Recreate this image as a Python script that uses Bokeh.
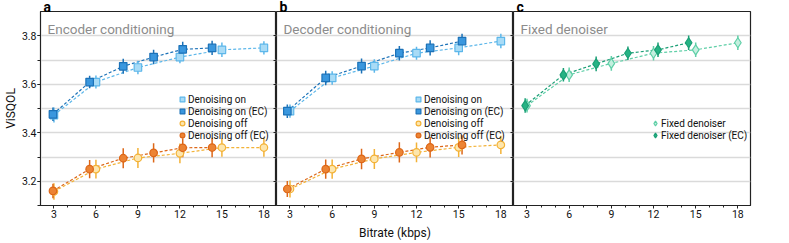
from bokeh.plotting import figure
from bokeh.layouts import row
from bokeh.models import (Range1d, SingleIntervalTicker, FixedTicker, Label, Legend,
                          LegendItem, LinearAxis)
from bokeh.embed import file_html
from bokeh.resources import INLINE

# ---------------- data ----------------
bitrates = [3, 6, 9, 12, 15, 18]

# panel a: Encoder conditioning
a_ec_bitrates = [2.93, 5.55, 7.95, 10.12, 12.2, 14.3]
a_on = [3.473, 3.609, 3.669, 3.712, 3.742, 3.750]
a_on_err = [0.031, 0.027, 0.028, 0.025, 0.030, 0.027]
a_on_ec = [3.476, 3.609, 3.674, 3.712, 3.744, 3.750]
a_on_ec_err = [0.028, 0.026, 0.031, 0.030, 0.031, 0.029]
a_off = [3.158, 3.250, 3.296, 3.315, 3.339, 3.339]
a_off_err = [0.034, 0.039, 0.041, 0.041, 0.038, 0.038]
a_off_ec = [3.160, 3.250, 3.295, 3.317, 3.338, 3.339]
a_off_ec_err = [0.030, 0.038, 0.041, 0.040, 0.039, 0.040]

# panel b: Decoder conditioning
b_ec_bitrates = [2.81, 5.54, 8.09, 10.78, 12.97, 15.24]
b_on = [3.489, 3.626, 3.675, 3.728, 3.750, 3.778]
b_on_err = [0.027, 0.028, 0.028, 0.027, 0.030, 0.030]
b_on_ec = [3.489, 3.626, 3.675, 3.728, 3.750, 3.778]
b_on_ec_err = [0.028, 0.030, 0.031, 0.030, 0.031, 0.030]
b_off = [3.168, 3.250, 3.292, 3.319, 3.340, 3.350]
b_off_err = [0.035, 0.040, 0.041, 0.041, 0.040, 0.038]
b_off_ec = [3.168, 3.250, 3.292, 3.319, 3.340, 3.350]
b_off_ec_err = [0.033, 0.040, 0.042, 0.042, 0.042, 0.040]

# panel c: Fixed denoiser
c_ec_bitrates = [2.87, 5.59, 7.92, 10.18, 12.32, 14.5]
c_fixed = [3.512, 3.639, 3.686, 3.728, 3.742, 3.771]
c_fixed_err = [0.028, 0.030, 0.030, 0.030, 0.030, 0.030]
c_fixed_ec = [3.512, 3.639, 3.684, 3.728, 3.742, 3.771]
c_fixed_ec_err = [0.030, 0.028, 0.030, 0.028, 0.030, 0.030]

x_tick_interval = 3
y_tick_interval = 0.2
y_grid_values = [3.2, 3.3, 3.4, 3.5, 3.6, 3.7, 3.8]
panel_letters = ["a", "b", "c"]
panel_titles = ["Encoder conditioning", "Decoder conditioning", "Fixed denoiser"]

FONT = "Roboto"
STYLES = {
    "on":     dict(line="#5db7ea", fill="#a8dbf6", marker="square", size=7.5),
    "on_ec":  dict(line="#1c72b8", fill="#3a97de", marker="square", size=7.5),
    "off":    dict(line="#f3b237", fill="#fde6ad", marker="circle", size=7.5),
    "off_ec": dict(line="#dd6718", fill="#ec8434", marker="circle", size=7.5),
    "fx":     dict(line="#5fcfa7", fill="#c4efdf", marker="diamond", size=10),
    "fx_ec":  dict(line="#1b9f76", fill="#26b384", marker="diamond", size=10),
}

FRAME_H = 194


def make_panel(idx, series, first=False, last=False, xlabel=None, fw=237):
    kw = dict(frame_width=fw, frame_height=FRAME_H, output_backend="svg",
              toolbar_location=None, x_range=Range1d(2.04, 18.9),
              y_range=Range1d(3.1, 3.9), min_border_top=11,
              min_border_right=0, min_border_bottom=0,
              min_border_left=31 if first else 0)
    p = figure(**kw)
    p.background_fill_color = "white"
    p.border_fill_color = "white"
    p.outline_line_color = "#222222"
    p.outline_line_width = 1.2
    p.xgrid.visible = False
    p.ygrid.ticker = FixedTicker(ticks=y_grid_values)
    p.ygrid.grid_line_color = "#dadada"
    p.ygrid.grid_line_width = 1.4

    # panel letter as title
    p.title.text = panel_letters[idx]
    p.title.text_font = FONT
    p.title.text_font_size = "14px"
    p.title.text_font_style = "bold"
    p.title.text_color = "#000000"
    p.title.vertical_align = "top"
    p.title.standoff = -10
    p.title.offset = 3
    p.title.align = "left"

    xa = p.xaxis[0]
    xa.ticker = SingleIntervalTicker(interval=x_tick_interval, num_minor_ticks=3)
    xa.major_tick_out = 3
    xa.major_tick_in = 0
    xa.minor_tick_out = 2
    xa.minor_tick_in = 0
    xa.major_label_standoff = 1
    xa.major_label_text_font = FONT
    xa.major_label_text_font_size = "10.5px"
    xa.major_label_text_color = "#111111"
    xa.axis_line_color = "#222222"
    xa.major_tick_line_color = "#222222"
    xa.minor_tick_line_color = "#222222"
    if xlabel:
        xa.axis_label = xlabel
        xa.axis_label_text_font = FONT
        xa.axis_label_text_font_size = "12px"
        xa.axis_label_text_font_style = "normal"
        xa.axis_label_text_color = "#111111"
        xa.axis_label_standoff = 5

    ya = p.yaxis[0]
    if first:
        ya.ticker = SingleIntervalTicker(interval=y_tick_interval, num_minor_ticks=2)
        ya.axis_line_color = "#222222"
        ya.major_tick_line_color = "#222222"
        ya.minor_tick_line_color = "#222222"
        ya.major_tick_out = 3
        ya.major_tick_in = 0
        ya.minor_tick_out = 3
        ya.minor_tick_in = 0
        ya.major_label_standoff = 1
        ya.major_label_text_font = FONT
        ya.major_label_text_font_size = "10.5px"
        ya.major_label_text_color = "#111111"
        ya.axis_label = "ViSQOL"
        ya.axis_label_text_font = FONT
        ya.axis_label_text_font_size = "12px"
        ya.axis_label_text_font_style = "normal"
        ya.axis_label_text_color = "#111111"
        ya.axis_label_standoff = 1
    else:
        ya.visible = False

    if not last:
        # tick marks of the next panel's y axis, drawn pointing into this panel
        ra = LinearAxis(ticker=FixedTicker(ticks=[], minor_ticks=y_grid_values),
                        major_tick_in=0, major_tick_out=0,
                        minor_tick_in=3, minor_tick_out=0,
                        major_label_standoff=0,
                        axis_line_color="#222222",
                        minor_tick_line_color="#222222")
        p.add_layout(ra, "right")

    # lines
    for (xs, ys, errs, key, label) in series:
        st = STYLES[key]
        p.line(xs, ys, line_color=st["line"], line_width=1.2, line_dash="3 2")
    # error bars
    for (xs, ys, errs, key, label) in series:
        st = STYLES[key]
        lo = [y - e for y, e in zip(ys, errs)]
        hi = [y + e for y, e in zip(ys, errs)]
        p.segment(x0=xs, y0=lo, x1=xs, y1=hi, line_color=st["line"], line_width=1.5)
    # markers
    items = []
    for (xs, ys, errs, key, label) in series:
        st = STYLES[key]
        r = p.scatter(xs, ys, marker=st["marker"], size=st["size"],
                      fill_color=st["fill"], line_color=st["line"], line_width=1.2)
        items.append(LegendItem(label=label, renderers=[r]))

    leg = Legend(items=items, location=(136, 64), padding=0, margin=0,
                 spacing=0, glyph_width=12, glyph_height=12, label_height=12,
                 label_standoff=0, label_text_font=FONT,
                 label_text_font_size="10px", label_text_color="#111111",
                 background_fill_alpha=0, border_line_alpha=0)
    p.add_layout(leg)

    p.add_layout(Label(x=7, y=FRAME_H - 17.5, x_units="screen", y_units="screen",
                       text=panel_titles[idx], text_font=FONT,
                       text_font_size="13.5px", text_color="#8c8c8c",
                       text_baseline="alphabetic"))
    return p


pa = make_panel(0, [
    (bitrates, a_on, a_on_err, "on", "Denoising on"),
    (a_ec_bitrates, a_on_ec, a_on_ec_err, "on_ec", "Denoising on (EC)"),
    (bitrates, a_off, a_off_err, "off", "Denoising off"),
    (a_ec_bitrates, a_off_ec, a_off_ec_err, "off_ec", "Denoising off (EC)"),
], first=True, fw=236)

pb = make_panel(1, [
    (bitrates, b_on, b_on_err, "on", "Denoising on"),
    (b_ec_bitrates, b_on_ec, b_on_ec_err, "on_ec", "Denoising on (EC)"),
    (bitrates, b_off, b_off_err, "off", "Denoising off"),
    (b_ec_bitrates, b_off_ec, b_off_ec_err, "off_ec", "Denoising off (EC)"),
], xlabel="Bitrate (kbps)")

pc = make_panel(2, [
    (bitrates, c_fixed, c_fixed_err, "fx", "Fixed denoiser"),
    (c_ec_bitrates, c_fixed_ec, c_fixed_ec_err, "fx_ec", "Fixed denoiser (EC)"),
], last=True)
pc.min_border_right = 20

layout = row(pa, pb, pc, spacing=0)

with open("out.html", "w") as f:
    f.write(file_html(layout, INLINE))
